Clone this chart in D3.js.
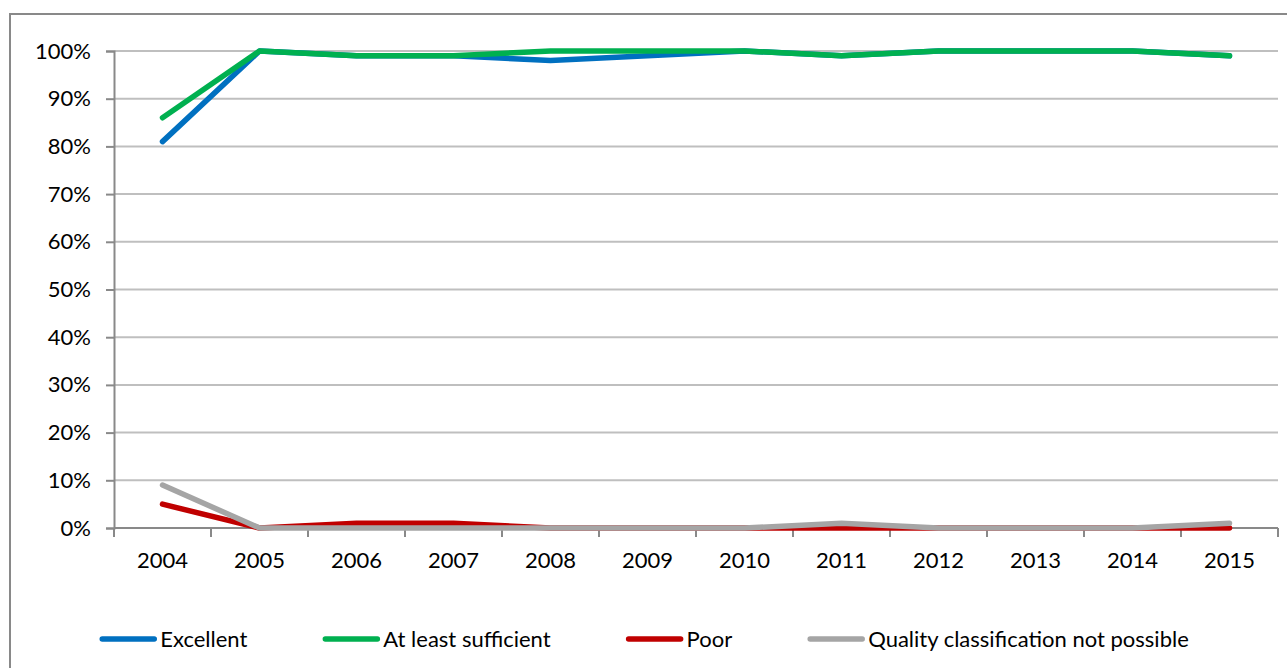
<!DOCTYPE html>
<html>
<head>
<meta charset="utf-8">
<script src="https://cdn.jsdelivr.net/npm/d3@7"></script>
<style>
  html, body { margin: 0; padding: 0; background: #fff; }
  svg { display: block; }
  text { font-family: Lato, "Open Sans", sans-serif; fill: #000; }
</style>
</head>
<body>
<svg id="chart" width="1287" height="668"></svg>
<script>
const years = ["2004","2005","2006","2007","2008","2009","2010","2011","2012","2013","2014","2015"];
const excellent   = [81, 100, 99, 99, 98, 99, 100, 99, 100, 100, 100, 99];
const sufficient  = [86, 100, 99, 99, 100, 100, 100, 99, 100, 100, 100, 99];
const poor        = [5, 0, 1, 1, 0, 0, 0, 0, 0, 0, 0, 0];
const notPossible = [9, 0, 0, 0, 0, 0, 0, 1, 0, 0, 0, 1];
const yTicks = [0, 10, 20, 30, 40, 50, 60, 70, 80, 90, 100];
const seriesNames = ["Excellent", "At least sufficient", "Poor", "Quality classification not possible"];
const seriesColors = ["#0070C0", "#00B050", "#C00000", "#A5A5A5"];
const seriesValues = [excellent, sufficient, poor, notPossible];

const svg = d3.select("#chart");
const W = 1287, H = 668;
const plot = { left: 114, right: 1278, top: 51, bottom: 528 };

// outer border (extends past right/bottom edges)
svg.append("rect")
  .attr("x", 10).attr("y", 14)
  .attr("width", W + 20).attr("height", H + 20)
  .attr("fill", "none").attr("stroke", "#898989").attr("stroke-width", 2);

const x = d3.scaleBand().domain(years).range([plot.left, plot.right]).padding(0);
const y = d3.scaleLinear().domain([0, 100]).range([plot.bottom, plot.top]);

// gridlines
svg.append("g").selectAll("line")
  .data(yTicks.filter(d => d > 0))
  .join("line")
  .attr("x1", plot.left).attr("x2", plot.right)
  .attr("y1", d => y(d)).attr("y2", d => y(d))
  .attr("stroke", "#BFBFBF").attr("stroke-width", 2);

// y axis
const yAxis = svg.append("g")
  .attr("transform", `translate(${plot.left},0)`)
  .call(d3.axisLeft(y).tickValues(yTicks).tickFormat(d => d + "%").tickSize(8).tickPadding(15));
yAxis.select(".domain").attr("stroke", "#898989").attr("stroke-width", 2);
yAxis.selectAll(".tick line").attr("stroke", "#898989").attr("stroke-width", 2);
yAxis.selectAll(".tick text").style("font-size", "22px").style("font-family", "Lato, sans-serif").attr("fill", "#000");

// x axis line
svg.append("line")
  .attr("x1", plot.left).attr("x2", plot.right)
  .attr("y1", plot.bottom).attr("y2", plot.bottom)
  .attr("stroke", "#898989").attr("stroke-width", 2);
// x tick marks at band boundaries
const boundaries = years.map(yr => x(yr)).concat([x.range()[1]]);
svg.append("g").selectAll("line")
  .data(boundaries)
  .join("line")
  .attr("x1", d => d).attr("x2", d => d)
  .attr("y1", plot.bottom).attr("y2", plot.bottom + 9)
  .attr("stroke", "#898989").attr("stroke-width", 2);
// x labels
const xAxis = svg.append("g")
  .attr("transform", `translate(0,${plot.bottom})`)
  .call(d3.axisBottom(x).tickSize(0).tickPadding(24));
xAxis.select(".domain").remove();
xAxis.selectAll(".tick text").style("font-size", "22px").style("font-family", "Lato, sans-serif").attr("fill", "#000");

// lines
const line = d3.line()
  .x((d, i) => x(years[i]) + x.bandwidth() / 2)
  .y(d => y(d));
seriesValues.forEach((vals, k) => {
  svg.append("path")
    .datum(vals)
    .attr("d", line)
    .attr("fill", "none")
    .attr("stroke", seriesColors[k])
    .attr("stroke-width", 5.5)
    .attr("stroke-linecap", "round")
    .attr("stroke-linejoin", "round");
});

// legend
const legend = svg.append("g");
const legY = 639;
const sampleW = 56, sampleGap = 4, itemGap = 76;
let cx = 0;
const items = [];
seriesNames.forEach((name, k) => {
  const g = legend.append("g");
  g.append("line")
    .attr("x1", cx + 2).attr("x2", cx + sampleW - 2)
    .attr("y1", legY).attr("y2", legY)
    .attr("stroke", seriesColors[k]).attr("stroke-width", 5.5)
    .attr("stroke-linecap", "round");
  const t = g.append("text")
    .attr("x", cx + sampleW + sampleGap)
    .attr("y", legY)
    .attr("dy", "0.35em")
    .style("font-size", "22px")
    .text(name);
  const tw = t.node().getComputedTextLength();
  cx += sampleW + sampleGap + tw + itemGap;
});
const totalW = cx - itemGap;
legend.attr("transform", `translate(${(W - totalW) / 2 + 1},0)`);
</script>
</body>
</html>
